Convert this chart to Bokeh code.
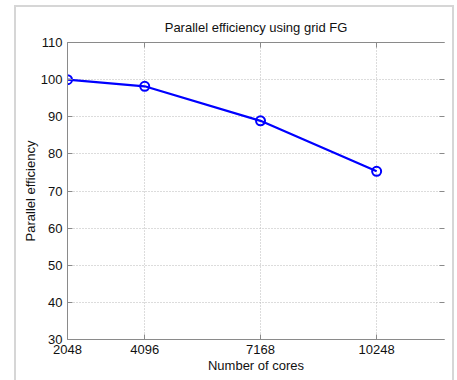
from bokeh.plotting import figure
from bokeh.models import LinearAxis, FixedTicker, Range1d, CustomJSTickFormatter
from bokeh.embed import file_html
from bokeh.resources import INLINE

cores = [2048, 4096, 7168, 10248]
efficiency = [100.0, 98.2, 88.9, 75.3]
x_ticks = [2048, 4096, 7168, 10248]
y_ticks = [30, 40, 50, 60, 70, 80, 90, 100, 110]

FONT = "Liberation Sans"
AX = "#8a8a8a"

p = figure(width=440, height=375, output_backend="svg", toolbar_location=None,
           x_range=Range1d(2048, 12048), y_range=Range1d(30, 110),
           min_border_left=51, min_border_right=12, min_border_top=35, min_border_bottom=43,
           title="Parallel efficiency using grid FG",
           margin=(5, 0, 0, 14),
           styles={"border-left": "2px solid #d6d6d6", "border-top": "2px solid #d6d6d6",
                   "border-right": "2px solid #d6d6d6", "box-sizing": "border-box"})
p.outline_line_color = None
p.background_fill_color = "white"
p.border_fill_color = "white"

p.title.align = "center"
p.title.text_font = FONT
p.title.text_font_size = "13px"
p.title.text_font_style = "normal"
p.title.text_color = "#111111"
p.title.offset = 2
p.title.standoff = 15

for ax, ticks in ((p.xaxis[0], x_ticks), (p.yaxis[0], y_ticks)):
    ax.ticker = FixedTicker(ticks=ticks)
    ax.major_label_text_font = FONT
    ax.major_label_text_font_size = "13px"
    ax.major_label_text_color = "#111111"
    ax.axis_label_text_font = FONT
    ax.axis_label_text_font_size = "13px"
    ax.axis_label_text_font_style = "normal"
    ax.axis_label_text_color = "#111111"
    ax.axis_line_color = AX
    ax.major_tick_line_color = AX
    ax.major_tick_in = 5
    ax.major_tick_out = 0
    ax.minor_tick_line_color = None

p.xaxis.axis_label = "Number of cores"
p.yaxis.axis_label = "Parallel efficiency"
p.xaxis.major_label_standoff = 5
p.xaxis.axis_label_standoff = 1
p.yaxis.major_label_standoff = 5
p.yaxis.axis_label_standoff = 0

blank = CustomJSTickFormatter(code="return '';")
top = LinearAxis(ticker=FixedTicker(ticks=x_ticks), formatter=blank,
                 axis_line_color=AX, major_tick_line_color=AX, major_tick_in=5, major_tick_out=0,
                 minor_tick_line_color=None, major_label_standoff=0)
right = LinearAxis(ticker=FixedTicker(ticks=y_ticks), formatter=blank,
                   axis_line_color=None, major_tick_line_color=AX, major_tick_in=5, major_tick_out=0,
                   minor_tick_line_color=None, major_label_standoff=0)
p.add_layout(top, "above")
p.add_layout(right, "right")

for g in (p.xgrid[0], p.ygrid[0]):
    g.grid_line_color = "#b8b8b8"
    g.grid_line_dash = "1 2"
    g.grid_line_width = 1
p.xgrid.ticker = FixedTicker(ticks=x_ticks)
p.ygrid.ticker = FixedTicker(ticks=y_ticks)

p.line(cores, efficiency, line_color="#0000ff", line_width=2.2)
p.scatter(cores, efficiency, marker="circle", size=9, fill_color=None,
          line_color="#0000ff", line_width=2)

open("out.html", "w").write(file_html(p, INLINE))
